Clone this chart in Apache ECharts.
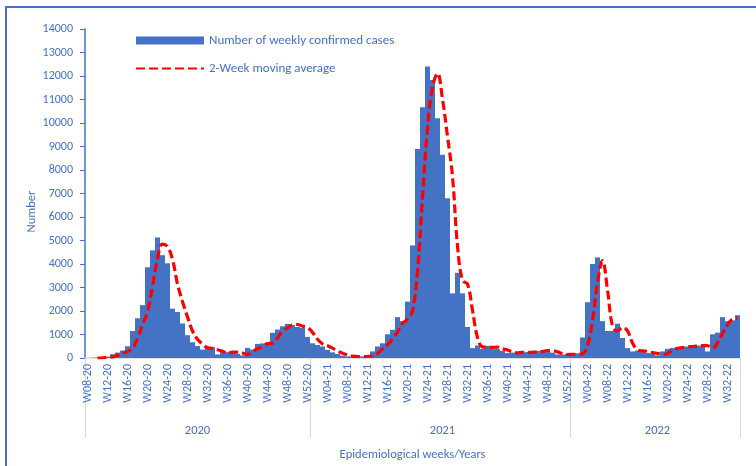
<!DOCTYPE html>
<html>
<head>
<meta charset="utf-8">
<script src="https://cdn.jsdelivr.net/npm/echarts@6/dist/echarts.min.js"></script>
<style>
html,body{margin:0;padding:0;background:#fff;}
#c{width:756px;height:466px;}
</style>
</head>
<body>
<div id="c"></div>
<script>
// Weeks shown per year (first..last ISO week)
var yearWeeks = [
  {year: '2020', first: 8, last: 52},
  {year: '2021', first: 1, last: 52},
  {year: '2022', first: 1, last: 34}
];
// Number of weekly confirmed cases
var cases2020 = [0,10,20,40,60,160,230,320, 500,1150,1690,2250,3860,4580,5130,4375,4030,2100,
  1960,1470,970,670,510,360,460,460,150,250, 250,250,180,110,430,360,600,620,640,1070,
  1210,1350,1450,1400,1320,1280,900];
var cases2021 = [625,555,490,350,240,170,100,70,60,60, 70,100,280,490,625,1010,1200,1740,1570,2400,
  4790,8890,10670,12400,11830,10200,8650,6800,2750,3625, 2750,1320,420,530,390,520,400,380,300,210,
  230,250,230,260,240,300,340,290,230,150, 150,170];
var cases2022 = [150,200,875,2375,4000,4280,1570,1150,1150,1460, 850,420,280,320,250,210,180,110,280,390,
  430,460,490,490,530,530,530,280,1010,1080, 1740,1570,1600,1820];
// 2-week moving average (as drawn)
var avg2020 = [null,null,0,10,30,50,110,195, 275,410,830,1420,1970,3050,4220,4850,4740,4200,
  3150,2400,1750,1150,800,590,435,410,350,290, 200,250,250,215,145,270,395,480,610,630,
  855,1140,1280,1405,1425,1355,1300];
var avg2021 = [1090,800,600,520,420,295,205,135,85,65, 60,65,85,190,385,555,815,1105,1470,1655,
  2000,3700,6840,9780,11530,12110,11015,9425,7725,4775, 3300,3150,2035,870,475,460,455,460,390,340,
  255,220,240,240,245,250,270,320,315,260, 190,150];
var avg2022 = [160,160,180,540,1600,3200,4140,2900,1360,1150, 1300,1150,640,350,300,285,230,195,145,195,
  335,410,445,475,490,510,530,530,405,645, 1045,1410,1660,1700];
var yTicks = {min: 0, max: 14000, step: 1000};

var categories = [];
var yearStart = {};
yearWeeks.forEach(function (y) {
  yearStart[categories.length] = true;
  for (var w = y.first; w <= y.last; w++) {
    categories.push('W' + (w < 10 ? '0' : '') + w + '-' + y.year.slice(2));
  }
});
var cases = cases2020.concat(cases2021, cases2022);
var avg = avg2020.concat(avg2021, avg2022);

var yearLabelIdx = {22: '2020', 71: '2021', 114: '2022'};

var blue = '#4472C4';
var font = 'Carlito, Lato, "Open Sans", sans-serif';
var chart = echarts.init(document.getElementById('c'));
chart.setOption({
  animation: false,
  textStyle: {fontFamily: font},
  graphic: [{
    type: 'rect', shape: {x: 6, y: 7, width: 770, height: 480},
    style: {fill: 'none', stroke: blue, lineWidth: 2}, silent: true, z: -1
  }],
  legend: {
    orient: 'vertical', left: 135, top: 34, padding: 0, itemWidth: 68, itemHeight: 8, itemGap: 15,
    textStyle: {color: blue, fontSize: 13, fontFamily: font},
    data: [{name: 'Number of weekly confirmed cases', icon: 'rect'},
           {name: '2-Week moving average', itemStyle: {opacity: 0}}]
  },
  grid: {left: 85, right: 16, top: 29, bottom: 101, containLabel: false},
  xAxis: [{
    type: 'category', data: categories, boundaryGap: true,
    axisLine: {show: true, lineStyle: {color: '#D9D9D9', width: 1.5}},
    axisTick: {show: false},
    axisLabel: {
      rotate: 90, color: blue, fontSize: 12, margin: 6,
      interval: function (i, v) { return parseInt(v.slice(1, 3), 10) % 4 === 0; }
    },
    splitLine: {show: false},
    name: 'Epidemiological weeks/Years', nameLocation: 'middle', nameGap: 90, nameMoveOverlap: false,
    nameTextStyle: {color: blue, fontSize: 12.5}
  }, {
    type: 'category', data: categories, boundaryGap: true, position: 'bottom',
    axisLine: {show: false},
    axisTick: {show: true, length: 80, lineStyle: {color: '#D9D9D9', width: 1.2},
      interval: function (i) { return !!yearStart[i]; }},
    axisLabel: {
      color: blue, fontSize: 12.5, margin: 66,
      interval: function (i) { return yearLabelIdx[i] !== undefined; },
      formatter: function (v) { return '20' + v.slice(4); }
    },
    splitLine: {show: false}
  }],
  yAxis: {
    type: 'value', min: yTicks.min, max: yTicks.max, interval: yTicks.step,
    axisLine: {show: true, lineStyle: {color: blue, width: 1.5}},
    axisTick: {show: true, length: 5, lineStyle: {color: blue}},
    axisLabel: {color: blue, fontSize: 12, margin: 12, formatter: function (v) { return String(v); }},
    splitLine: {show: false},
    name: 'Number', nameLocation: 'middle', nameGap: 47, nameRotate: 90, nameMoveOverlap: false,
    nameTextStyle: {color: blue, fontSize: 12.5, padding: [0, 36, 0, 0]}
  },
  series: [{
    name: 'Number of weekly confirmed cases', type: 'bar', data: cases,
    barCategoryGap: '0%', itemStyle: {color: blue}, xAxisIndex: 0
  }, {
    name: '2-Week moving average', type: 'line', data: avg, xAxisIndex: 0,
    smooth: 0.4, symbol: 'none', connectNulls: false,
    lineStyle: {color: '#FF0000', width: 3.2, type: [9, 4]},
    itemStyle: {color: '#FF0000'}
  }]
});
</script>
</body>
</html>
